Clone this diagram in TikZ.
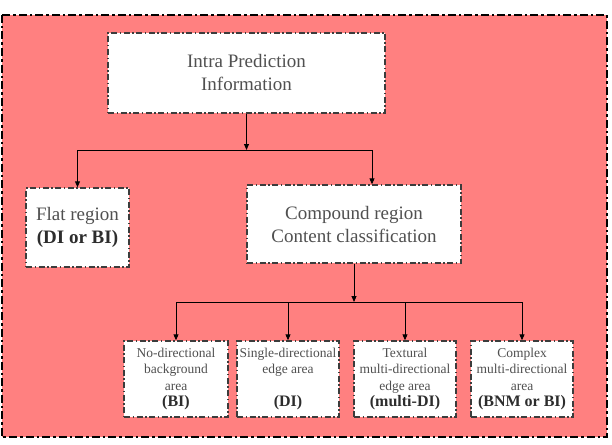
\documentclass[tikz,border=0pt]{standalone}
\usepackage{fontspec}
\setmainfont{Liberation Serif}
\usetikzlibrary{arrows.meta}
\definecolor{bgred}{RGB}{255,128,128}
\definecolor{txtgray}{RGB}{80,80,80}
\definecolor{boldgray}{RGB}{45,45,45}
\definecolor{boxline}{RGB}{60,60,60}
\newcommand{\bigtxt}{\fontsize{19}{23}\selectfont}
\newcommand{\smalltxt}{\fontsize{13.5}{16.3}\selectfont}
\newcommand{\bigbold}[1]{{\color{boldgray}\bfseries #1}}
\newcommand{\smallbold}[1]{{\fontsize{16}{16.3}\selectfont\color{boldgray}\bfseries #1}}
\tikzset{
  boxstyle/.style={draw=boxline, fill=white, line width=1.4pt,
    dash pattern=on 6pt off 2.5pt on 1.5pt off 2.5pt,
    align=center, text=txtgray, inner sep=0pt},
  upperbox/.style={boxstyle, font=\bigtxt},
  lowerbox/.style={boxstyle, font=\smalltxt, minimum height=76pt},
  conn/.style={line width=0.9pt, black},
  arr/.style={conn, -{Triangle[length=6pt,width=5pt]}},
}
\begin{document}
\begin{tikzpicture}[x=1pt,y=-1pt]
\useasboundingbox (0,0) rectangle (612,444);
\draw[fill=bgred, draw=black, line width=2.6pt,
  dash pattern=on 8pt off 3pt on 2.5pt off 3pt] (2,15) rectangle (607,437);

\node[upperbox, minimum width=277pt, minimum height=80pt] (top) at (246.5,73)
  {Intra Prediction\\Information};
\node[upperbox, minimum width=103pt, minimum height=79pt] (flat) at (77.5,227.5)
  {Flat region\\\bigbold{(DI or BI)}};
\node[upperbox, minimum width=214pt, minimum height=78pt] (comp) at (354,224)
  {Compound region\\Content classification};

\node[lowerbox, minimum width=104pt] (b1) at (176,379)
  {No-directional\\background\\area\\\smallbold{(BI)}};
\node[lowerbox, minimum width=102pt] (b2) at (288,379)
  {Single-directional\\edge area\\\mbox{}\\\smallbold{(DI)}};
\node[lowerbox, minimum width=102pt] (b3) at (405,379)
  {Textural\\multi-directional\\edge area\\\smallbold{(multi-DI)}};
\node[lowerbox, minimum width=102pt] (b4) at (522,379)
  {Complex\\multi-directional\\area\\\smallbold{(BNM or BI)}};

\coordinate (j1) at (246.5,150);
\coordinate (j1l) at (77.5,150);
\coordinate (j1r) at (372,150);
\draw[arr] (top.south) -- (j1);
\draw[conn] (j1l) -- (j1r);
\draw[arr] (j1l) -- (flat.north);
\draw[arr] (j1r) -- (j1r |- comp.north);

\coordinate (j2) at (354,302);
\coordinate (j2l) at (176,302);
\coordinate (j2r) at (522,302);
\draw[arr] (comp.south) -- (j2);
\draw[conn] (j2l) -- (j2r);
\draw[arr] (j2l) -- (b1.north);
\draw[arr] (j2 -| b2.north) -- (b2.north);
\draw[arr] (j2 -| b3.north) -- (b3.north);
\draw[arr] (j2r) -- (b4.north);
\end{tikzpicture}
\end{document}
